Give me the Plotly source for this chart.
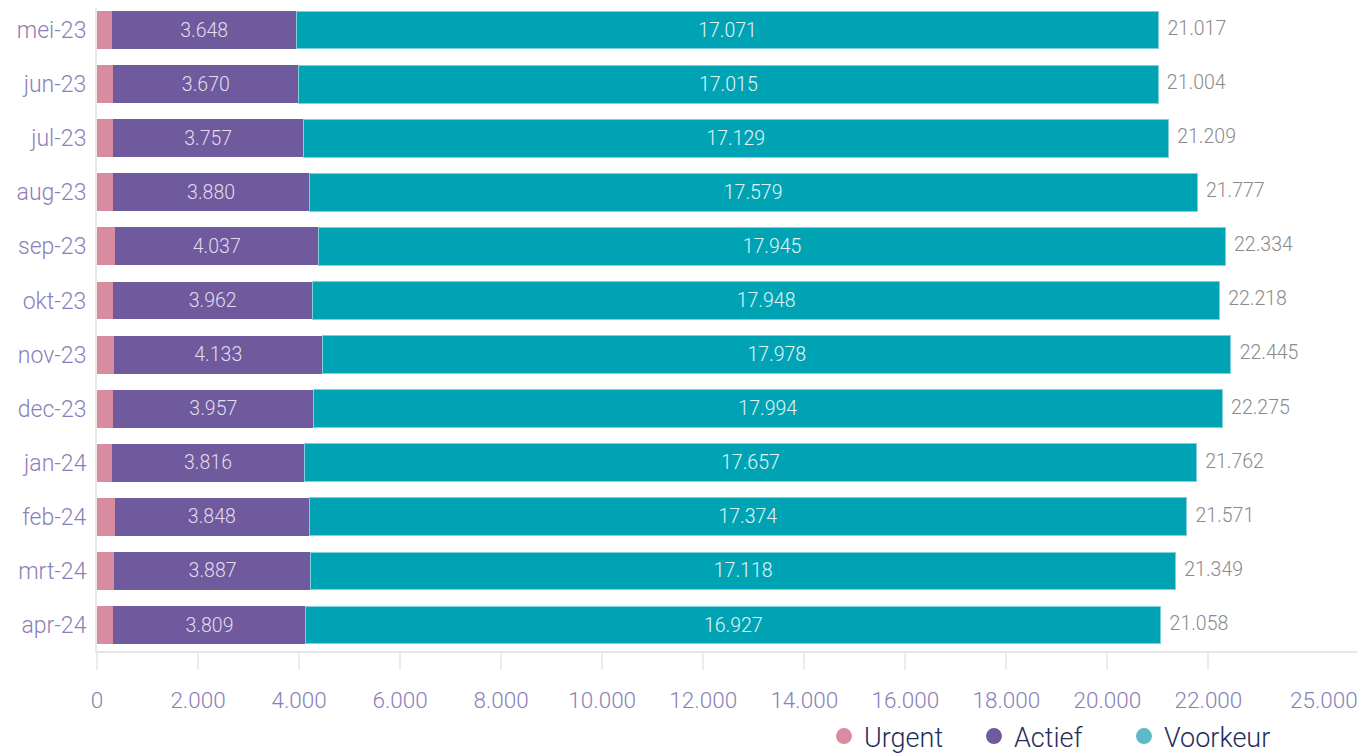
import plotly.graph_objects as go

months = ["mei-23", "jun-23", "jul-23", "aug-23", "sep-23", "okt-23",
          "nov-23", "dec-23", "jan-24", "feb-24", "mrt-24", "apr-24"]
urgent = [298, 319, 323, 318, 352, 308, 334, 324, 289, 349, 344, 322]
actief = [3648, 3670, 3757, 3880, 4037, 3962, 4133, 3957, 3816, 3848, 3887, 3809]
voorkeur = [17071, 17015, 17129, 17579, 17945, 17948, 17978, 17994, 17657, 17374, 17118, 16927]
totals = [21017, 21004, 21209, 21777, 22334, 22218, 22445, 22275, 21762, 21571, 21349, 21058]
tick_vals = [0, 2000, 4000, 6000, 8000, 10000, 12000, 14000, 16000, 18000, 20000, 22000, 25000]
x_max = 25000

def fmt(v):
    return f"{v:,}".replace(",", ".")

FONT = "Roboto"
c_urg, c_act, c_voo = "#d98ca0", "#6e5a9c", "#00a3b4"
tick_color = "#8a80b8"

fig = go.Figure()
fig.add_trace(go.Bar(y=months, x=urgent, orientation="h", marker=dict(color=c_urg, line=dict(width=0)),
                     showlegend=False, hoverinfo="x"))
fig.add_trace(go.Bar(y=months, x=actief, orientation="h", marker=dict(color=c_act, line=dict(width=0)),
                     text=[fmt(v) for v in actief], textposition="inside", insidetextanchor="middle",
                     textfont=dict(color="#e2dcee", size=19.5, family=FONT, weight=300), showlegend=False))
fig.add_trace(go.Bar(y=months, x=voorkeur, orientation="h", marker=dict(color=c_voo, line=dict(width=1, color="#7fd0da")),
                     text=[fmt(v) for v in voorkeur], textposition="inside", insidetextanchor="middle",
                     textfont=dict(color="#e0f4f6", size=19.5, family=FONT, weight=300), showlegend=False))
fig.add_trace(go.Scatter(y=months, x=totals, mode="text", text=[" \u2009" + fmt(v) for v in totals],
                         textposition="middle right",
                         textfont=dict(color="#8a8a8a", size=19.5, family=FONT, weight=300),
                         showlegend=False, cliponaxis=False))
for name, col in [("Urgent", c_urg), ("Actief", c_act), ("Voorkeur", "#5fbac8")]:
    fig.add_trace(go.Scatter(x=[None], y=[None], mode="markers", name=name,
                             marker=dict(symbol="circle", size=24, color=col)))

# last tick label is kept inside the figure (right aligned), as in the reference
fig.add_annotation(x=1.0, xref="paper", y=-0.076, yref="paper", text=fmt(tick_vals[-1]),
                   showarrow=False, xanchor="right", yanchor="middle",
                   font=dict(size=22.5, color=tick_color, family=FONT, weight=300))

fig.update_layout(
    barmode="stack", bargap=0.3,
    width=1357, height=748,
    margin=dict(l=89, r=5, t=0, b=105, autoexpand=False),
    plot_bgcolor="white", paper_bgcolor="white",
    font=dict(family=FONT, color=tick_color),
    uniformtext=dict(minsize=10, mode="show"),
    xaxis=dict(range=[0, x_max], tickvals=tick_vals,
               ticktext=[fmt(v) for v in tick_vals[:-1]] + [""],
               showgrid=False, zeroline=False, showline=True, linecolor="#e6e6e6", linewidth=2,
               ticks="outside", ticklen=17, tickwidth=2, tickcolor="#ececec", automargin=False,
               ticklabeloverflow="allow",
               tickfont=dict(size=22.5, color=tick_color, family=FONT, weight=300), ticklabelstandoff=11),
    yaxis=dict(range=[11.48, -0.407], showgrid=False, zeroline=False, showline=True, automargin=False,
               linecolor="#e8e8e8", linewidth=2, ticks="", ticklabelstandoff=4,
               tickfont=dict(size=23, color=tick_color, family=FONT, weight=300)),
    legend=dict(orientation="h", x=0.5756, xanchor="left", y=-0.133, yanchor="middle",
                traceorder="normal", entrywidth=105, entrywidthmode="pixels",
                font=dict(size=27, color="#1f2d5c", family=FONT, weight=300), itemsizing="trace",
                bgcolor="rgba(0,0,0,0)"),
)

fig.write_html("out.html")
